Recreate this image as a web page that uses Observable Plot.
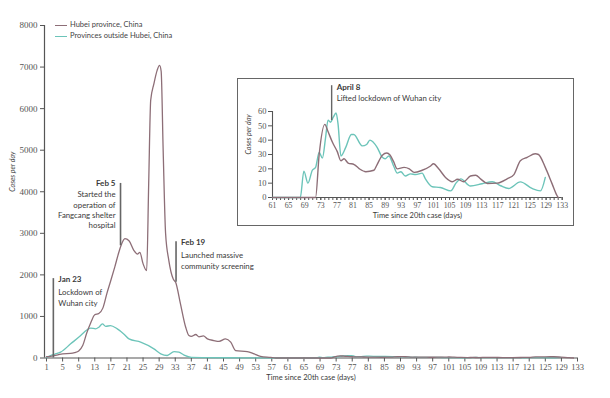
<!DOCTYPE html>
<html><head><meta charset="utf-8">
<script src="https://cdn.jsdelivr.net/npm/d3@7"></script>
<script src="https://cdn.jsdelivr.net/npm/@observablehq/plot@0.6"></script>
<style>
body{margin:0;background:#fff;}
#wrap{position:relative;width:610px;height:398px;overflow:hidden;}
#inset{position:absolute;left:237px;top:78px;width:337px;height:148px;border:1px solid #666;background:#fff;box-sizing:border-box;}
#legend{position:absolute;left:55px;top:19px;font-family:Lato,sans-serif;font-size:7.5px;color:#444;line-height:11px;}
#legend .sw{display:inline-block;width:12px;height:0;border-top:1.2px solid;vertical-align:middle;margin-right:3px;}
</style>
</head><body>
<div id="wrap"><div id="main"></div><div id="legend"></div><div id="inset"></div></div>
<script>
// ---- data (day since 20th case, cases per day) ----
const hubeiEarly = [[1,30],[2,40],[3,55],[4,80],[5,100],[7,110],[8,130],[9,170],[10,300],[11,600],[12,850],[13,1040],[14,1070],[15,1200],[16,1550],[17,1870],[18,2200],[19,2550],[19.5,2700],[20.5,2870],[21.5,2820],[22.7,2590],[23.6,2500],[24.2,2540],[25,2270],[25.9,2100],[26.4,4190],[26.9,6200],[27.7,6600],[28.5,6920],[29.1,7040],[29.5,6900],[30,4990],[30.6,3000],[31.4,2350],[32.5,1900],[33.1,1820],[34.3,1300],[35.6,740],[36.4,540],[37,520],[38.1,565],[38.9,510],[40,530],[41,460],[42.6,420],[43.9,400],[45.5,460],[46.8,380],[48,180],[50.9,155],[52.6,100],[54.2,40],[56.7,15],[58,0]];
const outsideEarly = [[1,10],[2,60],[3,90],[4.5,140],[7,340],[9.5,540],[11.1,680],[12,720],[13.2,700],[14,740],[14.9,820],[15.7,760],[16.9,780],[18.6,700],[20.2,580],[21.5,460],[24.4,380],[27.7,220],[29.4,100],[31,60],[32.7,155],[33.9,140],[35.2,70],[37,15],[40,10],[50,5],[58,0]];
const hubeiLate = [[61,0],[71.7,0],[72.6,30],[74,51],[74.8,46],[75.9,38.5],[77.1,32],[78,25.6],[78.8,27],[79.8,24],[81.3,23],[82.6,20],[84.2,18],[86.2,19],[87,23],[88.3,29.5],[89.4,31],[90.2,29.6],[91.1,25],[92,20],[93.7,21],[95,20],[96.2,17.5],[98.2,19],[100.3,22],[101,23.5],[102.3,20],[104,14],[105.7,11],[107,12.7],[108.5,11],[110.2,15],[111.5,15.5],[112.7,13],[114.4,9.8],[116.8,10],[119.3,13],[121,16],[122.6,25.6],[124.3,28],[126.3,30.5],[127.1,30],[128.8,21],[130.5,9.5],[131.7,1.4],[132,0]];
const outsideLate = [[61,0],[67.9,0],[68.8,18.4],[69.8,10],[70.9,19],[71.7,21],[72.6,31.5],[73.4,27.5],[74.2,42],[74.8,54],[75.4,52.5],[76.1,56],[76.8,59],[77.3,51],[78,29],[79.2,35],[80.6,44],[81.2,44],[83.3,36],[84.4,37],[85.2,40],[87,35],[88.3,28],[89,27],[89.9,29],[91.1,22],[92,17],[92.9,18],[94,15],[95.3,16.5],[96.6,16],[98.2,17],[99,13],[100.7,7.5],[102.7,7],[105.3,4.6],[106.6,10],[107.8,13],[110.2,8],[113.1,9.6],[115.6,11],[117.7,8.2],[119.7,6.3],[122.6,10.9],[125.5,6.3],[127.6,4.6],[128.8,14]];
const mainXTicks = [1,5,9,13,17,21,25,29,33,37,41,45,49,53,57,61,65,69,73,77,81,85,89,93,97,101,105,109,113,117,121,125,129,133];
const mainYTicks = [0,1000,2000,3000,4000,5000,6000,7000,8000];
const insetYTicks = [0,10,20,30,40,50,60];
const insetXTicks = [61,65,69,73,77,81,85,89,93,97,101,105,109,113,117,121,125,129,133];
const seriesNames = ["Hubei province, China","Provinces outside Hubei, China"];
// events: day, rule start/end (cases), title, body
const mainEvents = [
  {day:2.7, from:0, to:1910, title:"Jan 23", body:"Lockdown of\nWuhan city", side:"right"},
  {day:19.4, from:2700, to:4200, title:"Feb 5", body:"Started the\noperation of\nFangcang shelter\nhospital", side:"left"},
  {day:33.2, from:1820, to:2800, title:"Feb 19", body:"Launched massive\ncommunity screening", side:"right"}
];
const insetEvents = [{day:75.7, from:53.7, to:78, title:"April 8", body:"Lifted lockdown of Wuhan city"}];

const HUBEI = "#8d6e77", OUT = "#6cc4b9", AX = "#555", TXT = "#3a3a3a";
const SANS = "Lato, sans-serif";
const SERIF = "Liberation Serif, serif";

const hubeiAll = hubeiEarly.concat(hubeiLate);
const outsideAll = outsideEarly.concat(outsideLate);

const right = mainEvents.filter(d => d.side === "right");
const left = mainEvents.filter(d => d.side === "left");

const main = Plot.plot({
  width: 610, height: 398,
  marginLeft: 44, marginRight: 33, marginTop: 25, marginBottom: 40.5,
  style: {fontFamily: SERIF, background: "transparent"},
  x: {domain: [0.5, 133], axis: null},
  y: {domain: [0, 8000], axis: null},
  marks: [
    Plot.axisY({ticks: mainYTicks, tickFormat: d3.format("d"), tickSize: 4, tickPadding: 3, fontSize: 9, fontFamily: SERIF, color: AX, label: null}),
    Plot.axisX({ticks: mainXTicks, tickFormat: d3.format("d"), tickSize: 4, tickPadding: 2, fontSize: 8.5, fontFamily: SERIF, color: AX, label: null}),
    Plot.ruleX([0.5], {stroke: AX, strokeWidth: 1.2}),
    Plot.ruleY([0], {stroke: AX, strokeWidth: 1.2}),
    Plot.text(["Cases per day"], {frameAnchor: "left", rotate: -90, dx: -32, fontSize: 7, fontStyle: "italic", fontFamily: SANS, fill: TXT}),
    Plot.text(["Time since 20th case (days)"], {frameAnchor: "bottom", dy: 21.5, fontSize: 7.5, fontFamily: SANS, fill: TXT}),
    Plot.line(outsideAll, {x: d => d[0], y: d => d[1], stroke: OUT, strokeWidth: 1.3, curve: "monotone-x"}),
    Plot.line(hubeiAll, {x: d => d[0], y: d => d[1], stroke: HUBEI, strokeWidth: 1.3, curve: "monotone-x"}),
    Plot.ruleX(mainEvents, {x: "day", y1: "from", y2: "to", stroke: "#666", strokeWidth: 1.6}),
    Plot.text(right, {x: "day", y: "to", text: "title", textAnchor: "start", lineAnchor: "top", dx: 5, dy: -2, fontSize: 8, fontWeight: "bold", fontFamily: SANS, fill: TXT}),
    Plot.text(right, {x: "day", y: "to", text: "body", textAnchor: "start", lineAnchor: "top", dx: 5, dy: 9, fontSize: 7.8, lineHeight: 1.38, fontFamily: SANS, fill: TXT}),
    Plot.text(left, {x: "day", y: "to", text: "title", textAnchor: "end", lineAnchor: "top", dx: -5, dy: -3, fontSize: 8, fontWeight: "bold", fontFamily: SANS, fill: TXT}),
    Plot.text(left, {x: "day", y: "to", text: "body", textAnchor: "end", lineAnchor: "top", dx: -5, dy: 6.5, fontSize: 7.8, lineHeight: 1.33, fontFamily: SANS, fill: TXT})
  ]
});
document.getElementById("main").appendChild(main);

const inset = Plot.plot({
  width: 335, height: 146,
  marginLeft: 34, marginRight: 11.3, marginTop: 32, marginBottom: 28,
  style: {fontFamily: SERIF, background: "transparent", overflow: "visible"},
  x: {domain: [61, 133], axis: null},
  y: {domain: [0, 60], axis: null},
  marks: [
    Plot.axisY({ticks: insetYTicks, tickSize: 4, tickPadding: 2, fontSize: 8.5, fontFamily: SERIF, color: AX, label: null}),
    Plot.axisX({ticks: d3.range(61, 134), tickSize: 3, tickFormat: () => "", color: AX, label: null}),
    Plot.axisX({ticks: insetXTicks, tickFormat: d3.format("d"), tickSize: 3, tickPadding: 1.5, fontSize: 7.8, fontFamily: SERIF, color: AX, label: null}),
    Plot.ruleX([61], {stroke: AX, strokeWidth: 1.1}),
    Plot.ruleY([0], {stroke: AX, strokeWidth: 1.1}),
    Plot.text(["Cases per day"], {frameAnchor: "left", rotate: -90, dx: -24, fontSize: 7, fontStyle: "italic", fontFamily: SANS, fill: TXT}),
    Plot.text(["Time since 20th case (days)"], {frameAnchor: "bottom", dy: 20, fontSize: 7.5, fontFamily: SANS, fill: TXT}),
    Plot.line(outsideLate, {x: d => d[0], y: d => d[1], stroke: OUT, strokeWidth: 1.4, curve: "monotone-x"}),
    Plot.line(hubeiLate, {x: d => d[0], y: d => d[1], stroke: HUBEI, strokeWidth: 1.4, curve: "monotone-x"}),
    Plot.ruleX(insetEvents, {x: "day", y1: "from", y2: "to", stroke: "#666", strokeWidth: 1.4}),
    Plot.text(insetEvents, {x: "day", y: "to", text: "title", textAnchor: "start", lineAnchor: "top", dx: 5, dy: -1.5, fontSize: 8, fontWeight: "bold", fontFamily: SANS, fill: TXT}),
    Plot.text(insetEvents, {x: "day", y: "to", text: "body", textAnchor: "start", lineAnchor: "top", dx: 5, dy: 9.5, fontSize: 7.8, fontFamily: SANS, fill: TXT})
  ]
});
document.getElementById("inset").appendChild(inset);

const lg = document.getElementById("legend");
[[seriesNames[0], HUBEI], [seriesNames[1], OUT]].forEach(([name, c]) => {
  const row = document.createElement("div");
  row.innerHTML = `<span class="sw" style="border-color:${c}"></span>${name}`;
  lg.appendChild(row);
});
</script>
</body></html>
